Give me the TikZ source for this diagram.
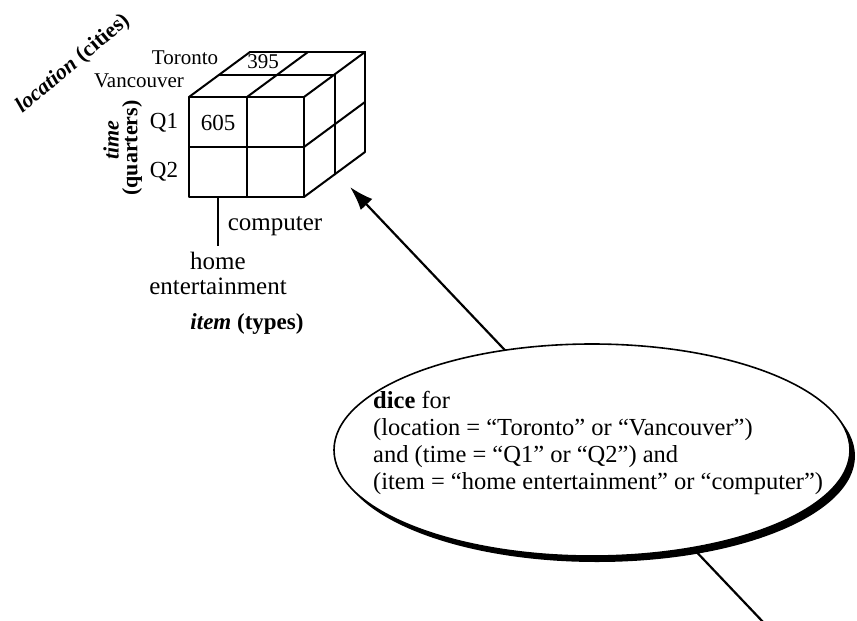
\documentclass[tikz,border=0pt]{standalone}
\usepackage{fontspec}
\setmainfont{Liberation Serif}
\usetikzlibrary{arrows.meta,shapes.geometric}
\begin{document}
\begin{tikzpicture}[x=1pt,y=-1pt,
  cube/.style={line width=2pt, line cap=round, line join=round},
  lab/.style={inner sep=0pt, font=\fontsize{21}{23}\selectfont},
  big/.style={inner sep=0pt, font=\fontsize{25}{25}\selectfont},
  axis/.style={inner sep=0pt, font=\fontsize{22}{24}\selectfont\bfseries}]
\useasboundingbox (0,0) rectangle (857,621);
% connector from the dice ellipse to the cube
\coordinate (tail) at (764,623);
\coordinate (tip) at (350,187);
\draw[line width=2.2pt, -{Latex[length=24pt,width=16pt]}] (tail) -- (tip);
% ellipse with heavy lower-right stroke
\node (shade) [ellipse, fill=black, inner sep=0pt, minimum width=516pt, minimum height=212pt] at (597,456) {};
\node (dice) [ellipse, draw, fill=white, line width=1.6pt, inner sep=0pt, minimum width=516pt, minimum height=212pt] at (592,450) {};
\node (dicetext) [anchor=north west, align=left, inner sep=0pt,
  font=\fontsize{24.5}{27}\selectfont] at (373,391)
  {\textbf{dice} for\\(location = “Toronto” or “Vancouver”)\\and (time = “Q1” or “Q2”) and\\(item = “home entertainment” or “computer”)};
% cube: front face
\def\dx{30.5}\def\dy{-22.5}
\draw[cube] (189,97) rectangle (304,197);
\draw[cube] (247,97) -- (247,197);
\draw[cube] (189,147) -- (304,147);
% top face
\draw[cube] (189,97) -- ++(2*\dx,2*\dy);
\draw[cube] (247,97) -- ++(2*\dx,2*\dy);
\draw[cube] (304,97) -- ++(2*\dx,2*\dy);
\draw[cube] (189+\dx,97+\dy) -- (304+\dx,97+\dy);
\draw[cube] (189+2*\dx,97+2*\dy) -- (304+2*\dx,97+2*\dy);
% right face
\draw[cube] (304,147) -- ++(2*\dx,2*\dy);
\draw[cube] (304,197) -- ++(2*\dx,2*\dy);
\draw[cube] (304+\dx,97+\dy) -- (304+\dx,197+\dy);
\draw[cube] (304+2*\dx,97+2*\dy) -- (304+2*\dx,197+2*\dy);
% cube labels
\node (tor) [lab] at (185,58) {Toronto};
\node (van) [lab] at (139,81) {Vancouver};
\node (v395) [lab] at (263,62) {395};
\node (q1) [lab, font=\fontsize{23}{25}\selectfont] at (164,123) {Q1};
\node (v605) [lab, font=\fontsize{23}{25}\selectfont] at (218,123) {605};
\node (q2) [lab, font=\fontsize{23}{25}\selectfont] at (164,172) {Q2};
% item axis
\coordinate (itop) at (218,197);
\coordinate (ibot) at (218,246);
\draw[line width=2pt] (itop) -- (ibot);
\node (comp) [big] at (275,226) {computer};
\node (home) [big, align=center] at (218,273) {home\\entertainment};
% axis titles
\node (loc) [axis, rotate=40] at (73,64) {\textit{location} (cities)};
\node (time) [axis, rotate=90] at (111,140) {\textit{time}};
\node (quart) [axis, rotate=90] at (132,148) {(quarters)};
\node (item) [axis, font=\fontsize{23}{25}\selectfont\bfseries] at (247,324) {\textit{item} (types)};
\end{tikzpicture}
\end{document}
